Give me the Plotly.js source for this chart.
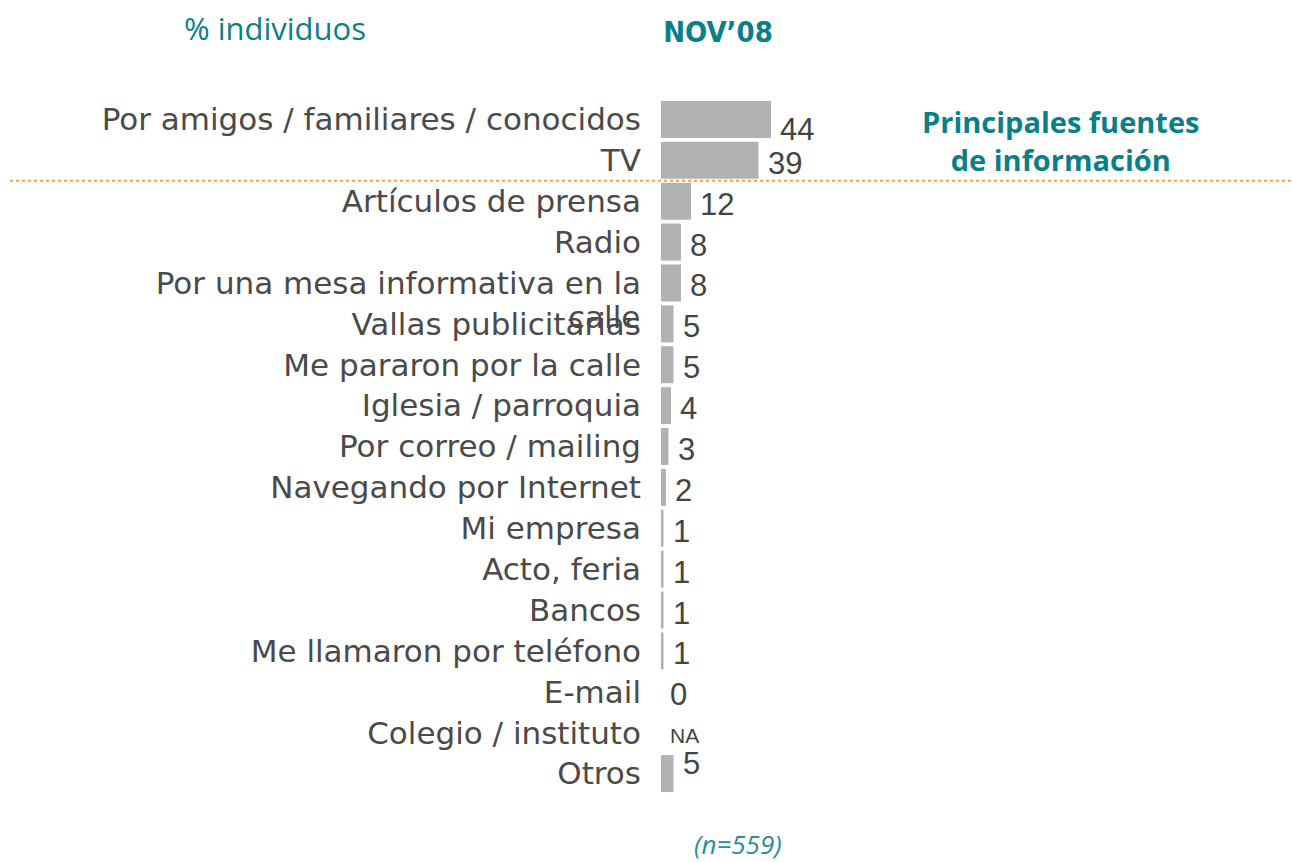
<!DOCTYPE html>
<html>
<head>
<meta charset="utf-8">
<script src="https://cdn.plot.ly/plotly-3.0.1.min.js"></script>
<style>html,body{margin:0;padding:0;background:#fff;}#chart{width:1292px;height:862px;}</style>
</head>
<body>
<div id="chart"></div>
<script>
const categories = [
  "Por amigos / familiares / conocidos",
  "TV",
  "Artículos de prensa",
  "Radio",
  "Por una mesa informativa en la calle",
  "Vallas publicitarias",
  "Me pararon por la calle",
  "Iglesia / parroquia",
  "Por correo / mailing",
  "Navegando por Internet",
  "Mi empresa",
  "Acto, feria",
  "Bancos",
  "Me llamaron por teléfono",
  "E-mail",
  "Colegio / instituto",
  "Otros"
];
const tickLabels = [
  "Por amigos / familiares / conocidos",
  "TV",
  "Artículos de prensa",
  "Radio",
  "Por una mesa informativa en la",
  "Vallas publicitarias",
  "Me pararon por la calle",
  "Iglesia / parroquia",
  "Por correo / mailing",
  "Navegando por Internet",
  "Mi empresa",
  "Acto, feria",
  "Bancos",
  "Me llamaron por teléfono",
  "E-mail",
  "Colegio / instituto",
  "Otros"
];
const values = [44, 39, 12, 8, 8, 5, 5, 4, 3, 2, 1, 1, 1, 1, 0, null, 5];
const valueLabels = ["44","39","12","8","8","5","5","4","3","2","1","1","1","1","0","NA","5"];

const TEAL = "#0b7f88";
const GRAY = "#444444";
const LABEL_GRAY = "#4a4a4a";

const L = 661, R = 1281, T = 99, B = 794;
const px = x => (x - L) / (R - L);
const py = y => (B - y) / (B - T);
const n = categories.length;

const annotations = [];
categories.forEach((c, i) => {
  const isNA = values[i] === null;
  annotations.push({
    x: isNA ? 0 : values[i], y: c, xref: "x", yref: "y",
    text: valueLabels[i], showarrow: false,
    xanchor: "left", yanchor: "middle",
    xshift: 7, yshift: i === 0 ? -10 : (i === n - 1 ? 10 : -3),
    font: {family: "Liberation Sans, Arial, sans-serif", size: isNA ? 21 : 31, color: GRAY}
  });
});
// wrapped second line of the long label
annotations.push({
  x: 0, xref: "paper", y: categories[4], yref: "y",
  text: "calle", showarrow: false, xanchor: "right", yanchor: "middle",
  xshift: -19, yshift: -34,
  font: {family: "DejaVu Sans, sans-serif", size: 31, color: LABEL_GRAY}
});
annotations.push({
  x: px(182), y: py(28), xref: "paper", yref: "paper",
  text: "% individuos", showarrow: false, xanchor: "left", yanchor: "middle",
  font: {family: "Open Sans, sans-serif", size: 31, color: TEAL}
});
annotations.push({
  x: px(1060), y: py(140), xref: "paper", yref: "paper",
  text: "<b>Principales fuentes<br>de información</b>", showarrow: false,
  xanchor: "center", yanchor: "middle", align: "center",
  font: {family: "Open Sans, sans-serif", size: 29, color: TEAL}
});
annotations.push({
  x: px(738), y: py(844), xref: "paper", yref: "paper",
  text: "<i>(n=559)</i>", showarrow: false, xanchor: "center", yanchor: "middle",
  font: {family: "Open Sans, sans-serif", size: 26, color: "#2a8f98"}
});

const trace = {
  type: "bar", orientation: "h",
  x: values, y: categories,
  marker: {color: "#b2b2b2"},
  hoverinfo: "none", showlegend: false
};

const layout = {
  width: 1292, height: 862,
  margin: {l: L, r: 1292 - R, t: T, b: 862 - B, pad: 0, autoexpand: false},
  paper_bgcolor: "#ffffff", plot_bgcolor: "#ffffff",
  title: {
    text: "<b>NOV’08</b>", x: px(718), xref: "paper",
    xanchor: "center", y: 1 - 32 / 862, yanchor: "middle", automargin: false,
    font: {family: "DejaVu Sans Condensed, DejaVu Sans, sans-serif", size: 29, color: TEAL}
  },
  xaxis: {range: [0, 248], showgrid: false, zeroline: false, showticklabels: false, showline: false, ticks: "", automargin: false},
  yaxis: {
    type: "category", range: [n - 0.5, -0.5], automargin: false,
    tickvals: categories, ticktext: tickLabels,
    showgrid: false, zeroline: false, showline: false, ticks: "",
    ticklabelstandoff: 19,
    tickfont: {family: "DejaVu Sans, sans-serif", size: 31, color: LABEL_GRAY}
  },
  bargap: 0.095,
  annotations: annotations,
  shapes: [{
    type: "line", xref: "paper", yref: "y",
    x0: px(10), x1: px(1292), y0: 1.5, y1: 1.5,
    line: {color: "#f5a340", width: 2, dash: "dot"}
  }]
};

Plotly.newPlot("chart", [trace], layout, {displayModeBar: false, staticPlot: true});
</script>
</body>
</html>
